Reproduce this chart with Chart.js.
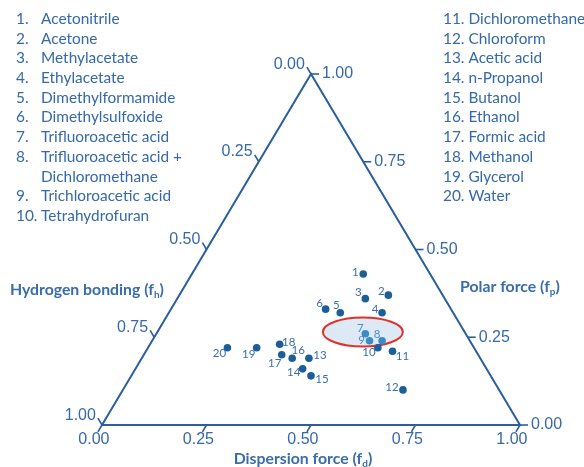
<!DOCTYPE html>
<html>
<head>
<meta charset="utf-8">
<script src="https://cdn.jsdelivr.net/npm/chart.js@4.4.1/dist/chart.umd.min.js"></script>
<style>
  body { margin: 0; background: #fff; }
  #wrap { width: 584px; height: 467px; }
</style>
</head>
<body>
<div id="wrap"><canvas id="teasChart" width="584" height="467"></canvas></div>
<script>
// Solvents, numbered as in the figure
const solvents = [
    'Acetonitrile', 'Acetone', 'Methylacetate', 'Ethylacetate', 'Dimethylformamide',
    'Dimethylsulfoxide', 'Trifluoroacetic acid', 'Trifluoroacetic acid +\nDichloromethane',
    'Trichloroacetic acid', 'Tetrahydrofuran', 'Dichloromethane', 'Chloroform',
    'Acetic acid', 'n-Propanol', 'Butanol', 'Ethanol', 'Formic acid', 'Methanol',
    'Glycerol', 'Water'
];

// Fractional solubility parameters
const fd = [0.41, 0.50, 0.45, 0.51, 0.41, 0.37, 0.50, 0.55, 0.52, 0.55,
            0.59, 0.67, 0.40, 0.40, 0.43, 0.36, 0.33, 0.31, 0.26, 0.19];
const fp = [0.43, 0.37, 0.36, 0.32, 0.32, 0.33, 0.26, 0.24, 0.24, 0.22,
            0.21, 0.10, 0.19, 0.16, 0.14, 0.19, 0.20, 0.23, 0.22, 0.22];
const fh = [0.16, 0.13, 0.19, 0.17, 0.27, 0.30, 0.24, 0.21, 0.24, 0.23,
            0.20, 0.23, 0.41, 0.44, 0.43, 0.45, 0.47, 0.46, 0.52, 0.59];

const axisTicks = [0, 0.25, 0.5, 0.75, 1];
const highlighted = [7, 8, 9];   // the circled acids

// Where each number label sits relative to its point (px)
const labelOffsets = [
    [-8, -2], [-7, -4], [-7, -6], [-7, -3], [-4, -7], [-6, -6], [-5, -5], [-5, -6],
    [-8, 0], [-9, 5], [10, 5], [-11, -3], [11, -3], [-9, 3], [11, 3], [6, -8],
    [-7, 8], [9, -2], [-8, 7], [-8, 6]
];

const lineColor = '#2a5f9c';
const textColor = '#3569aa';
const dotColor = '#1b5e98';
const lightDot = '#3b8bc4';

// ternary -> cartesian (fp up, fd to the right)
function toXY(d, p, h) {
    return { x: (1 + d - h) / 2, y: p };
}

const points = fd.map((d, i) => toXY(d, fp[i], fh[i]));
const triangle = [toXY(0, 0, 1), toXY(1, 0, 0), toXY(0, 1, 0), toXY(0, 0, 1)];

function px(chart, pt) {
    return {
        x: chart.scales.x.getPixelForValue(pt.x),
        y: chart.scales.y.getPixelForValue(pt.y)
    };
}

function unit(a, b) {
    const dx = b.x - a.x, dy = b.y - a.y;
    const len = Math.sqrt(dx * dx + dy * dy);
    return { x: dx / len, y: dy / len };
}

function drawSub(ctx, main, sub, x, y, align, size) {
    const big = 'bold ' + size + 'px Lato';
    const small = 'bold ' + Math.round(size * 0.65) + 'px Lato';
    ctx.font = big;
    const w1 = ctx.measureText(main).width;
    const w3 = ctx.measureText(')').width;
    ctx.font = small;
    const w2 = ctx.measureText(sub).width;
    const x0 = align === 'center' ? x - (w1 + w2 + w3) / 2 : x;
    ctx.textAlign = 'left';
    ctx.textBaseline = 'middle';
    ctx.font = big;
    ctx.fillText(main, x0, y);
    ctx.fillText(')', x0 + w1 + w2, y);
    ctx.font = small;
    ctx.fillText(sub, x0 + w1, y + 5);
}

const ellipsePlugin = {
    id: 'ellipse',
    beforeDatasetsDraw(chart) {
        const ctx = chart.ctx;
        const c = px(chart, { x: 0.624, y: 0.265 });
        ctx.save();
        ctx.beginPath();
        ctx.ellipse(c.x, c.y, 40, 14.5, 0, 0, Math.PI * 2);
        ctx.fillStyle = '#dde9f5';
        ctx.fill();
        ctx.lineWidth = 2;
        ctx.strokeStyle = '#e2302b';
        ctx.stroke();
        ctx.restore();
    }
};

const decorPlugin = {
    id: 'decor',
    afterDatasetsDraw(chart) {
        const ctx = chart.ctx;
        const BL = px(chart, triangle[0]);
        const BR = px(chart, triangle[1]);
        const AP = px(chart, triangle[2]);
        const dBottom = unit(AP, BL);   // down-left, along constant fd
        const dLeft = unit(BR, AP);     // up-left, along constant fh
        const tl = 8;

        ctx.save();
        ctx.strokeStyle = lineColor;
        ctx.fillStyle = textColor;
        ctx.lineWidth = 1.6;
        ctx.font = '16px "Liberation Sans"';

        axisTicks.forEach(t => {
            // bottom axis: dispersion
            let p = px(chart, toXY(t, 0, 1 - t));
            let e = { x: p.x + dBottom.x * tl, y: p.y + dBottom.y * tl };
            ctx.beginPath(); ctx.moveTo(p.x, p.y); ctx.lineTo(e.x, e.y); ctx.stroke();
            ctx.textAlign = 'center'; ctx.textBaseline = 'middle';
            ctx.fillText(t.toFixed(2), e.x - 4, e.y + 8);

            // right axis: polar
            p = px(chart, toXY(1 - t, t, 0));
            e = { x: p.x + tl, y: p.y };
            ctx.beginPath(); ctx.moveTo(p.x, p.y); ctx.lineTo(e.x, e.y); ctx.stroke();
            ctx.textAlign = 'left';
            ctx.fillText(t.toFixed(2), e.x + 3, e.y);

            // left axis: hydrogen bonding
            p = px(chart, toXY(0, 1 - t, t));
            e = { x: p.x + dLeft.x * tl, y: p.y + dLeft.y * tl };
            ctx.beginPath(); ctx.moveTo(p.x, p.y); ctx.lineTo(e.x, e.y); ctx.stroke();
            ctx.textAlign = 'right';
            ctx.fillText(t.toFixed(2), e.x - 2, e.y - 3);
        });

        // axis titles
        ctx.fillStyle = '#3a6dab';
        drawSub(ctx, 'Hydrogen bonding (f', 'h', 10, 290, 'left', 15.8);
        drawSub(ctx, 'Polar force (f', 'p', 460, 287, 'left', 15.8);
        drawSub(ctx, 'Dispersion force (f', 'd', (BL.x + BR.x) / 2 - 8, 459, 'center', 15.8);

        // number labels next to the points
        ctx.font = '11.5px Lato';
        ctx.textAlign = 'center';
        ctx.textBaseline = 'middle';
        points.forEach((pt, i) => {
            const p = px(chart, pt);
            const o = labelOffsets[i];
            ctx.fillStyle = highlighted.includes(i + 1) ? '#4f8fc6' : '#3a70b0';
            ctx.fillText(String(i + 1), p.x + o[0], p.y + o[1]);
        });

        // solvent list
        ctx.fillStyle = textColor;
        ctx.font = '15.4px Lato';
        ctx.textAlign = 'left';
        ctx.textBaseline = 'middle';
        let row = 0;
        const rowH = 19.7;
        for (let i = 0; i < 10; i++) {
            const parts = solvents[i].split('\n');
            ctx.fillText((i + 1) + '.', 16, 19 + row * rowH);
            parts.forEach(part => {
                ctx.fillText(part, 41, 19 + row * rowH);
                row++;
            });
        }
        for (let i = 10; i < solvents.length; i++) {
            ctx.fillText((i + 1) + '. ' + solvents[i], 443, 19 + (i - 10) * rowH);
        }
        ctx.restore();
    }
};

new Chart(document.getElementById('teasChart').getContext('2d'), {
    type: 'scatter',
    data: {
        datasets: [{
            label: 'Solvents',
            data: points,
            backgroundColor: points.map((p, i) => highlighted.includes(i + 1) ? lightDot : dotColor),
            borderWidth: 0,
            pointRadius: 3.8,
            clip: false
        }, {
            label: 'Frame',
            data: triangle,
            showLine: true,
            borderColor: lineColor,
            borderWidth: 2,
            pointRadius: 0,
            fill: false,
            clip: false
        }]
    },
    options: {
        responsive: false,
        animation: false,
        layout: {
            padding: { left: 102, right: 64, top: 74, bottom: 42 }
        },
        scales: {
            x: { type: 'linear', min: 0, max: 1, display: false },
            y: { type: 'linear', min: 0, max: 1, display: false }
        },
        plugins: {
            legend: { display: false },
            tooltip: { enabled: false }
        }
    },
    plugins: [ellipsePlugin, decorPlugin]
});
</script>
</body>
</html>
